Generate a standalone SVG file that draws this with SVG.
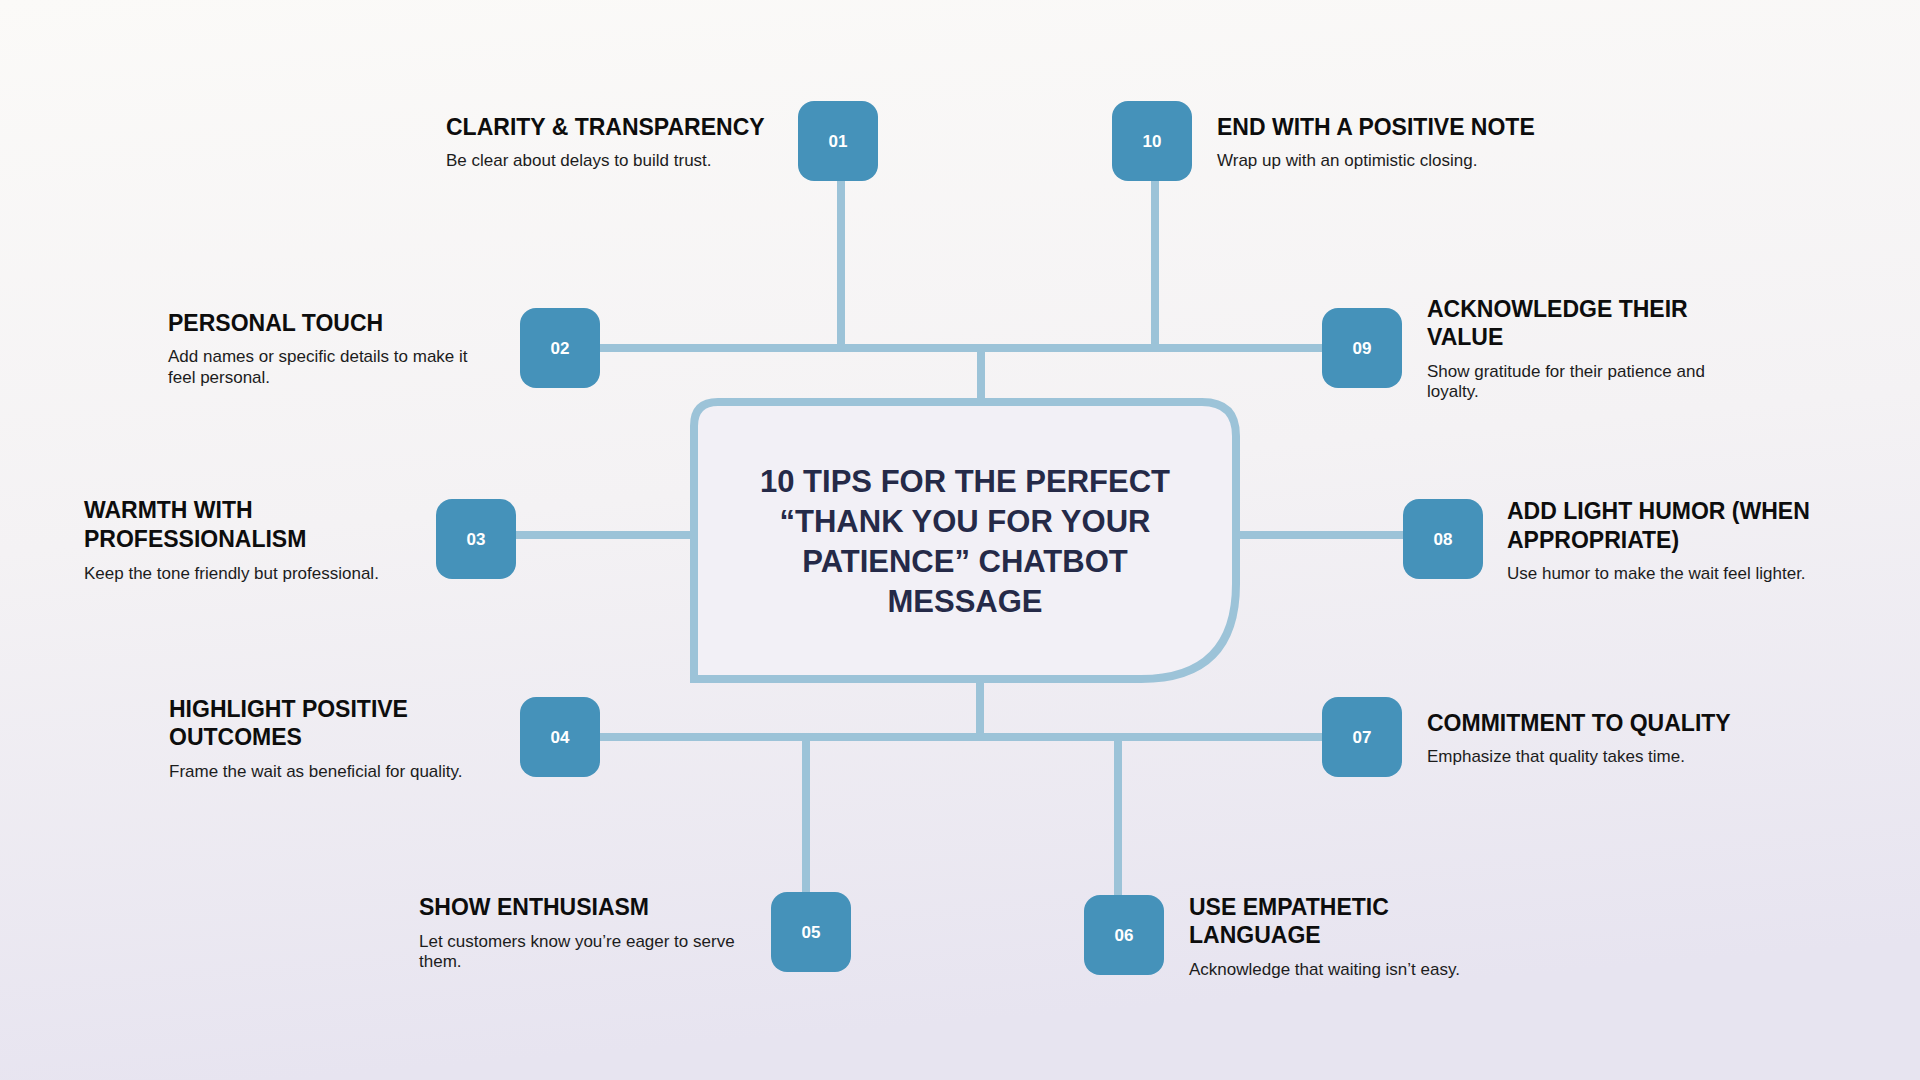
<svg xmlns="http://www.w3.org/2000/svg" width="1920" height="1080" viewBox="0 0 1920 1080">
<defs>
<linearGradient id="bg" x1="0" y1="0" x2="0.15" y2="1">
<stop offset="0" stop-color="#fbfaf8"/>
<stop offset="0.5" stop-color="#f4f2f4"/>
<stop offset="1" stop-color="#e7e4f0"/>
</linearGradient>
<style>
.ln{stroke:#9cc3d8;stroke-width:8;fill:none}
.box{fill:#4592ba}
.num{font-family:"Liberation Sans",Arial,sans-serif;font-weight:bold;font-size:17px;fill:#ffffff;text-anchor:middle}
.tt{font-family:"Liberation Sans",Arial,sans-serif;font-weight:bold;font-size:23px;fill:#0d0d0d}
.ds{font-family:"Liberation Sans",Arial,sans-serif;font-size:17px;fill:#1c1c1c}
.ct{font-family:"Liberation Sans",Arial,sans-serif;font-weight:bold;font-size:31px;fill:#252a48;text-anchor:middle}
</style>
</defs>
<rect width="1920" height="1080" fill="url(#bg)"/>
<g id="connectors">
<line class="ln" x1="600" y1="348" x2="1322" y2="348"/>
<line class="ln" x1="841" y1="181" x2="841" y2="352"/>
<line class="ln" x1="1155" y1="181" x2="1155" y2="352"/>
<line class="ln" x1="981" y1="348" x2="981" y2="398"/>
<line class="ln" x1="516" y1="535" x2="690" y2="535"/>
<line class="ln" x1="1240" y1="535" x2="1403" y2="535"/>
<line class="ln" x1="980" y1="683" x2="980" y2="737"/>
<line class="ln" x1="600" y1="737" x2="1322" y2="737"/>
<line class="ln" x1="806" y1="733" x2="806" y2="893"/>
<line class="ln" x1="1118" y1="733" x2="1118" y2="895"/>
</g>
<g id="center">
<path d="M694 679 L694 426 Q694 402 718 402 L1202 402 Q1236 402 1236 436 L1236 584 Q1236 679 1141 679 Z" fill="#f2f0f6" stroke="#9cc3d8" stroke-width="8"/>
<text class="ct" x="965" y="492">10 TIPS FOR THE PERFECT</text>
<text class="ct" x="965" y="532">“THANK YOU FOR YOUR</text>
<text class="ct" x="965" y="572">PATIENCE” CHATBOT</text>
<text class="ct" x="965" y="612">MESSAGE</text>
</g>
<g id="tip01">
<rect class="box" x="798" y="101" width="80" height="80" rx="16"/>
<text class="num" x="838" y="147">01</text>
<text class="tt" x="446" y="135">CLARITY &amp; TRANSPARENCY</text>
<text class="ds" x="446" y="166">Be clear about delays to build trust.</text>
</g>
<g id="tip02">
<rect class="box" x="520" y="308" width="80" height="80" rx="16"/>
<text class="num" x="560" y="354">02</text>
<text class="tt" x="168" y="331">PERSONAL TOUCH</text>
<text class="ds" x="168" y="362">Add names or specific details to make it</text>
<text class="ds" x="168" y="383">feel personal.</text>
</g>
<g id="tip03">
<rect class="box" x="436" y="499" width="80" height="80" rx="16"/>
<text class="num" x="476" y="545">03</text>
<text class="tt" x="84" y="518">WARMTH WITH</text>
<text class="tt" x="84" y="547">PROFESSIONALISM</text>
<text class="ds" x="84" y="579">Keep the tone friendly but professional.</text>
</g>
<g id="tip04">
<rect class="box" x="520" y="697" width="80" height="80" rx="16"/>
<text class="num" x="560" y="743">04</text>
<text class="tt" x="169" y="717">HIGHLIGHT POSITIVE</text>
<text class="tt" x="169" y="745">OUTCOMES</text>
<text class="ds" x="169" y="777">Frame the wait as beneficial for quality.</text>
</g>
<g id="tip05">
<rect class="box" x="771" y="892" width="80" height="80" rx="16"/>
<text class="num" x="811" y="938">05</text>
<text class="tt" x="419" y="915">SHOW ENTHUSIASM</text>
<text class="ds" x="419" y="947">Let customers know you’re eager to serve</text>
<text class="ds" x="419" y="967">them.</text>
</g>
<g id="tip06">
<rect class="box" x="1084" y="895" width="80" height="80" rx="16"/>
<text class="num" x="1124" y="941">06</text>
<text class="tt" x="1189" y="915">USE EMPATHETIC</text>
<text class="tt" x="1189" y="943">LANGUAGE</text>
<text class="ds" x="1189" y="975">Acknowledge that waiting isn’t easy.</text>
</g>
<g id="tip07">
<rect class="box" x="1322" y="697" width="80" height="80" rx="16"/>
<text class="num" x="1362" y="743">07</text>
<text class="tt" x="1427" y="731">COMMITMENT TO QUALITY</text>
<text class="ds" x="1427" y="762">Emphasize that quality takes time.</text>
</g>
<g id="tip08">
<rect class="box" x="1403" y="499" width="80" height="80" rx="16"/>
<text class="num" x="1443" y="545">08</text>
<text class="tt" x="1507" y="519">ADD LIGHT HUMOR (WHEN</text>
<text class="tt" x="1507" y="548">APPROPRIATE)</text>
<text class="ds" x="1507" y="579">Use humor to make the wait feel lighter.</text>
</g>
<g id="tip09">
<rect class="box" x="1322" y="308" width="80" height="80" rx="16"/>
<text class="num" x="1362" y="354">09</text>
<text class="tt" x="1427" y="317">ACKNOWLEDGE THEIR</text>
<text class="tt" x="1427" y="345">VALUE</text>
<text class="ds" x="1427" y="377">Show gratitude for their patience and</text>
<text class="ds" x="1427" y="397">loyalty.</text>
</g>
<g id="tip10">
<rect class="box" x="1112" y="101" width="80" height="80" rx="16"/>
<text class="num" x="1152" y="147">10</text>
<text class="tt" x="1217" y="135">END WITH A POSITIVE NOTE</text>
<text class="ds" x="1217" y="166">Wrap up with an optimistic closing.</text>
</g>
</svg>
